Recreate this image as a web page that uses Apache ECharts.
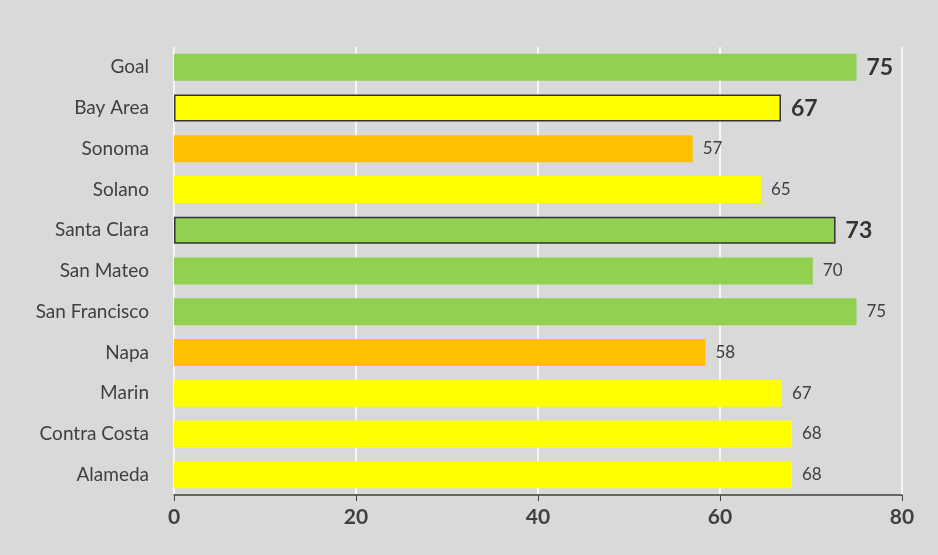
<!DOCTYPE html>
<html><head><meta charset="utf-8">
<script src="https://cdn.jsdelivr.net/npm/echarts@6/dist/echarts.min.js"></script>
<style>html,body{margin:0;padding:0;background:#d9d9d9}#c{width:938px;height:555px}</style>
</head><body><div id="c"></div>
<script>
const categories = ['Goal','Bay Area','Sonoma','Solano','Santa Clara','San Mateo','San Francisco','Napa','Marin','Contra Costa','Alameda'];
const values = [75, 66.7, 57, 64.5, 72.7, 70.2, 75, 58.4, 66.8, 67.9, 67.9];
const labels = ['75','67','57','65','73','70','75','58','67','68','68'];
const colors = ['#92d050','#ffff00','#ffc000','#ffff00','#92d050','#92d050','#92d050','#ffc000','#ffff00','#ffff00','#ffff00'];
const emphasized = ['Goal','Bay Area','Santa Clara'];
const outlined = ['Bay Area','Santa Clara'];
const xTicks = [0,20,40,60,80];

const cats = categories.slice().reverse();
const data = categories.map((c,i)=>({
  value: values[i],
  itemStyle: {color: colors[i], borderColor: outlined.includes(c)?'#333':'transparent', borderWidth: outlined.includes(c)?1.5:0},
  label: emphasized.includes(c) ? {fontSize:23, fontWeight:'bold', color:'#333'} : {}
})).reverse();
const lab = labels.slice().reverse();

const chart = echarts.init(document.getElementById('c'));
chart.setOption({
  backgroundColor:'#d9d9d9',
  textStyle:{fontFamily:'Lato'},
  grid:{left:174, right:36, top:47, bottom:60, containLabel:false},
  xAxis:{type:'value', min:0, max:80, interval:20,
    axisLine:{show:true, lineStyle:{color:'#404040', width:1.5}},
    axisTick:{show:true, length:6, lineStyle:{color:'#404040'}},
    splitLine:{lineStyle:{color:'#ffffff', width:1.5}},
    axisLabel:{fontSize:21, fontWeight:'bold', color:'#404040', margin:12,
      formatter:v=>xTicks.includes(v)?String(v):''}},
  yAxis:{type:'category', data:cats,
    axisLine:{show:false}, axisTick:{show:false},
    axisLabel:{fontSize:19, color:'#404040', margin:25}},
  series:[{type:'bar', data:data, barWidth:27, silent:true,
    label:{show:true, position:'right', distance:10, fontSize:17, color:'#404040',
      formatter:p=>lab[p.dataIndex]}}]
});
</script></body></html>
